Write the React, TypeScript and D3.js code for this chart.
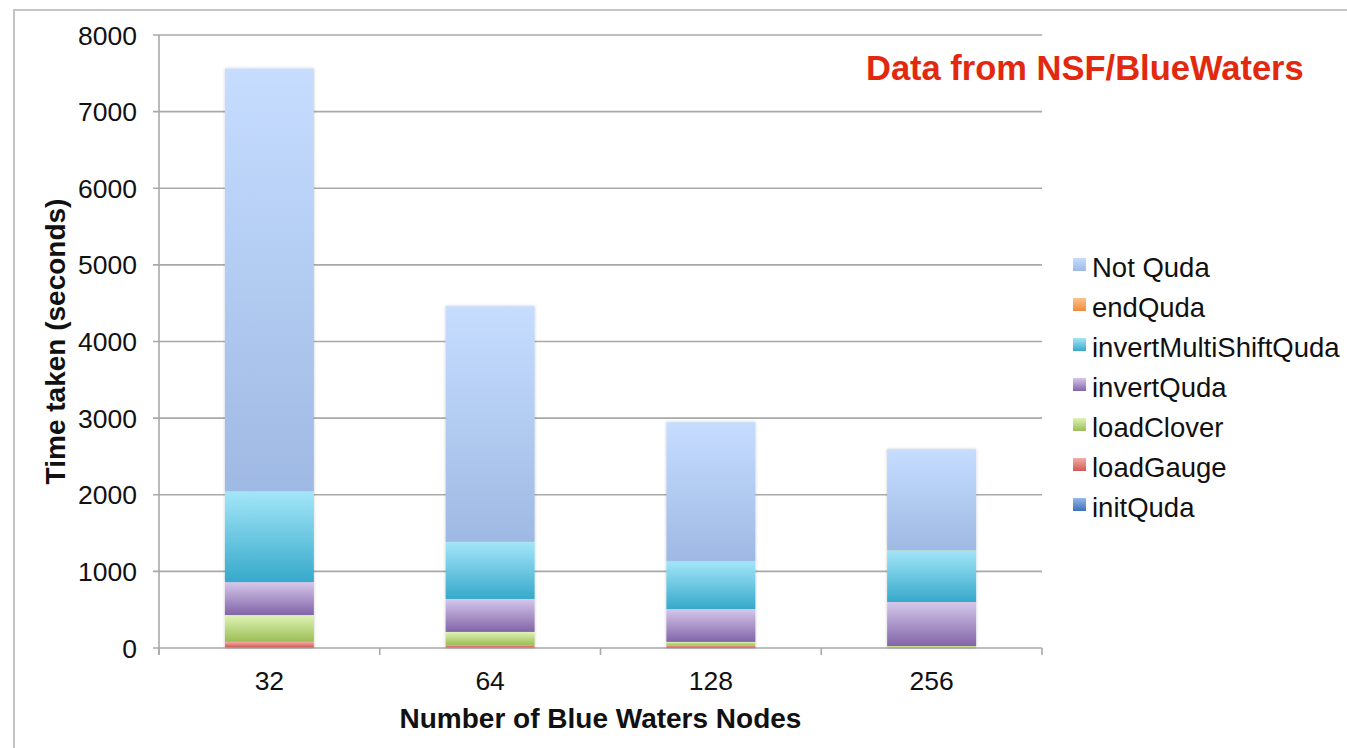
import React from "react";
import * as d3 from "d3";

// Node counts on the x axis
const categories = ["32", "64", "128", "256"];

// Time spent per phase, seconds
const initQuda = [10, 8, 5, 3];
const loadGauge = [70, 32, 30, 5];
const loadClover = [350, 170, 45, 18];
const invertQuda = [430, 430, 428, 574];
const invertMultiShiftQuda = [1187, 743, 626, 677];
const endQuda = [2, 2, 2, 2];
const notQuda = [5513, 3076, 1811, 1315];

const yTicks = [0, 1000, 2000, 3000, 4000, 5000, 6000, 7000, 8000];

// Stack order, bottom to top
const seriesNames = [
  "initQuda",
  "loadGauge",
  "loadClover",
  "invertQuda",
  "invertMultiShiftQuda",
  "endQuda",
  "Not Quda",
];
const seriesValues = [initQuda, loadGauge, loadClover, invertQuda, invertMultiShiftQuda, endQuda, notQuda];

// Gradient colours per series: [top, bottom]
const seriesColors: [string, string][] = [
  ["#94b8e8", "#3c72bb"],
  ["#f5aca7", "#cf5a55"],
  ["#dff4b6", "#9bbd55"],
  ["#d5c8eb", "#8264a8"],
  ["#a4e6f9", "#36a9ca"],
  ["#fcc28c", "#f08a3a"],
  ["#c6ddff", "#9eb9e3"],
];

const W = 1347;
const H = 748;
const left = 159;
const right = 1042;
const top = 35;
const bottom = 648;

export default function App() {
  const rows = categories.map((c, i) => {
    const r: Record<string, any> = { cat: c };
    seriesNames.forEach((s, k) => (r[s] = seriesValues[k][i]));
    return r;
  });
  const stacked = d3.stack<any>().keys(seriesNames)(rows);

  const x = d3.scaleBand<string>().domain(categories).range([left, right]).padding(0);
  const y = d3.scaleLinear().domain([0, 8000]).range([bottom, top]);
  const barW = x.bandwidth() * 0.403;
  const grid = "#a9a9a9";
  const font = "'Liberation Sans', Arial, Helvetica, sans-serif";

  const boundaries = [...categories.map((c) => x(c)!), right];

  return (
    <svg
      width={W}
      height={H}
      style={{ position: "absolute", left: 0, top: 0, background: "#fff" }}
      fontFamily={font}
    >
      <defs>
        {seriesColors.map(([a, b], k) => (
          <linearGradient key={k} id={`g${k}`} x1="0" y1="0" x2="0" y2="1">
            <stop offset="0" stopColor={a} />
            <stop offset="1" stopColor={b} />
          </linearGradient>
        ))}
        <filter id="shadow" x="-10%" y="-5%" width="120%" height="110%">
          <feDropShadow dx="0" dy="0" stdDeviation="1.6" floodColor="#000" floodOpacity="0.22" />
        </filter>
      </defs>

      {/* outer frame */}
      <rect x={14} y={10} width={1400} height={800} fill="none" stroke="#b4b4b4" strokeWidth={1.5} />

      {/* gridlines and y ticks */}
      {yTicks.map((t) => (
        <g key={t}>
          <line x1={153} x2={right} y1={y(t)} y2={y(t)} stroke={grid} strokeWidth={1.6} />
          <text x={137} y={y(t)} dy="0.36em" textAnchor="end" fontSize={26.5} fill="#111">
            {t}
          </text>
        </g>
      ))}

      {/* axes */}
      <line x1={left} x2={left} y1={top} y2={655} stroke={grid} strokeWidth={1.6} />
      {boundaries.map((bx, i) => (
        <line key={i} x1={bx} x2={bx} y1={bottom} y2={655} stroke={grid} strokeWidth={1.6} />
      ))}

      {/* stacked bars */}
      <g filter="url(#shadow)">
        {stacked.map((layer, k) =>
          layer.map((d, i) => {
            const y0 = y(d[0]);
            const y1 = y(d[1]);
            const h = Math.max(0, y0 - y1);
            if (h <= 0) return null;
            return (
              <rect
                key={`${k}-${i}`}
                x={x(categories[i])! + (x.bandwidth() - barW) / 2}
                y={y1}
                width={barW}
                height={h}
                fill={`url(#g${k})`}
              />
            );
          })
        )}
      </g>

      {/* x tick labels */}
      {categories.map((c) => (
        <text key={c} x={x(c)! + x.bandwidth() / 2} y={690} textAnchor="middle" fontSize={26.5} fill="#111">
          {c}
        </text>
      ))}

      {/* axis titles */}
      <text x={(left + right) / 2} y={728} textAnchor="middle" fontSize={28} fontWeight="bold" fill="#111">
        Number of Blue Waters Nodes
      </text>
      <text
        transform={`translate(65, ${(top + bottom) / 2}) rotate(-90)`}
        textAnchor="middle"
        fontSize={28}
        fontWeight="bold"
        fill="#111"
      >
        Time taken (seconds)
      </text>

      {/* annotation */}
      <text x={866} y={80} fontSize={34.5} fontWeight="bold" fill="#e2290f">
        Data from NSF/BlueWaters
      </text>

      {/* legend, top entry first */}
      {seriesNames
        .map((s, k) => ({ s, k }))
        .reverse()
        .map(({ s, k }, j) => (
          <g key={s} transform={`translate(1073, ${258 + j * 40})`}>
            <rect x={0} y={0} width={13} height={13} fill={`url(#g${k})`} />
            <text x={19} y={19} fontSize={27.5} fill="#111">
              {s}
            </text>
          </g>
        ))}
    </svg>
  );
}
